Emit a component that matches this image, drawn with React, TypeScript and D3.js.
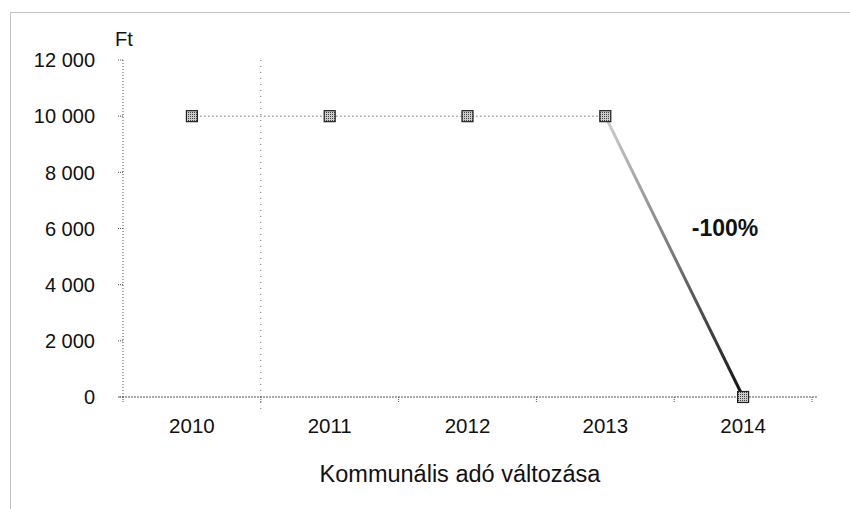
import * as d3 from "d3";

// data
const years = ["2010", "2011", "2012", "2013", "2014"];
const values = [10000, 10000, 10000, 10000, 0];
const yTicks = [0, 2000, 4000, 6000, 8000, 10000, 12000];
const changeLabel = "-100%";
const unitLabel = "Ft";
const title = "Kommunális adó változása";

const W = 850, H = 509;
const left = 123, right = 812, top = 60, bottom = 397;
const font = "'Liberation Sans', Arial, sans-serif";

const fmt = (v: number) => (v >= 1000 ? Math.floor(v / 1000) + " " + String(v % 1000).padStart(3, "0") : String(v));

const App = () => {
    const x = d3.scaleBand().domain(years).range([left, right]);
    const y = d3.scaleLinear().domain([0, 12000]).range([bottom, top]);
    const cx = (d: string) => (x(d) as number) + x.bandwidth() / 2;

    const pts = years.map((yr, i) => [cx(yr), y(values[i])] as [number, number]);
    const line = d3.line();
    const flat = line(pts.slice(0, 4)) as string;
    const last = pts.slice(3);
    const bounds = years.map(yr => x(yr) as number).concat([right]);

    return (
        <svg width={W} height={H} style={{ position: "absolute", left: 0, top: 0 }} fontFamily={font}>
            <defs>
                <linearGradient id="drop" gradientUnits="userSpaceOnUse"
                    x1={last[0][0]} y1={last[0][1]} x2={last[1][0]} y2={last[1][1]}>
                    <stop offset="0" stopColor="#cfcfcf" />
                    <stop offset="0.5" stopColor="#777" />
                    <stop offset="1" stopColor="#111" />
                </linearGradient>
                <pattern id="dots" width="2" height="2" patternUnits="userSpaceOnUse">
                    <rect width="2" height="2" fill="#ccc" />
                    <rect width="1" height="1" fill="#444" />
                </pattern>
            </defs>
            <rect x={10.5} y={12.5} width={W + 20} height={H + 20} fill="white" stroke="#888" strokeDasharray="1,1" />

            {/* vertical dotted line between 2010 and 2011 */}
            <line x1={bounds[1]} x2={bounds[1]} y1={top} y2={bottom + 14} stroke="#777" strokeDasharray="1,5" />

            {/* y axis */}
            <line x1={left} x2={left} y1={top} y2={bottom} stroke="#555" strokeDasharray="1,2" />
            {yTicks.map(t => (
                <g key={t}>
                    <line x1={left - 5} x2={left} y1={y(t)} y2={y(t)} stroke="#555" strokeDasharray="1,1" />
                    <text x={95} y={y(t)} dy="0.36em" textAnchor="end" fontSize={20} fill="#111">{fmt(t)}</text>
                </g>
            ))}
            <text x={115} y={46} fontSize={20} fill="#111">{unitLabel}</text>

            {/* x axis */}
            <line x1={left - 4} x2={817} y1={bottom} y2={bottom} stroke="#555" strokeDasharray="2,1" />
            {bounds.map((b, i) => (
                <line key={i} x1={b} x2={b} y1={bottom} y2={bottom + 5} stroke="#555" strokeDasharray="1,1" />
            ))}
            {years.map(yr => (
                <text key={yr} x={cx(yr)} y={433} textAnchor="middle" fontSize={20.5} fill="#111">{yr}</text>
            ))}

            {/* series */}
            <path d={flat} fill="none" stroke="#888" strokeWidth={1} strokeDasharray="2,2" />
            <path d={line(last) as string} fill="none" stroke="url(#drop)" strokeWidth={3} />
            {pts.map((p, i) => (
                <rect key={i} x={p[0] - 5.5} y={p[1] - 5.5} width={11} height={11} fill="url(#dots)" stroke="#222" strokeWidth={1.2} />
            ))}

            <text x={725} y={236} textAnchor="middle" fontSize={23} fontWeight="bold" fill="#111">{changeLabel}</text>
            <text x={460} y={482} textAnchor="middle" fontSize={23.5} fill="#111">{title}</text>
        </svg>
    );
};

export default App;
